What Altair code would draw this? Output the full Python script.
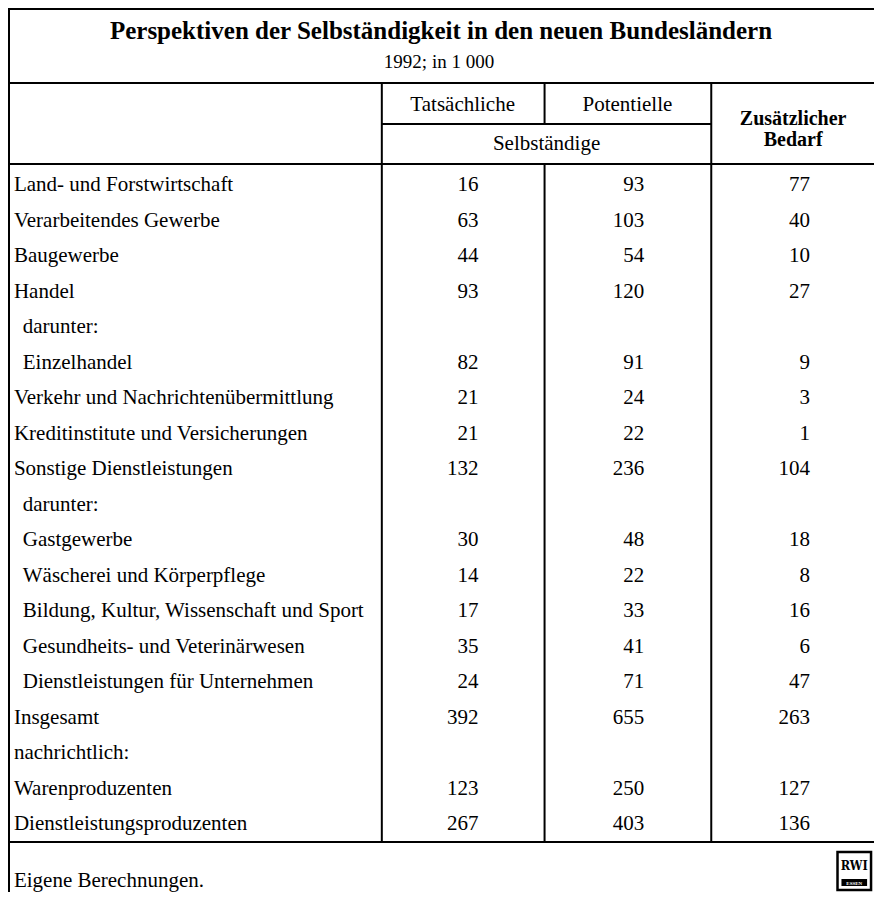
import altair as alt
import pandas as pd

# ---------------- data ----------------
labels = [
    "Land- und Forstwirtschaft", "Verarbeitendes Gewerbe", "Baugewerbe", "Handel",
    "darunter:", "Einzelhandel", "Verkehr und Nachrichtenübermittlung",
    "Kreditinstitute und Versicherungen", "Sonstige Dienstleistungen", "darunter:",
    "Gastgewerbe", "Wäscherei und Körperpflege", "Bildung, Kultur, Wissenschaft und Sport",
    "Gesundheits- und Veterinärwesen", "Dienstleistungen für Unternehmen", "Insgesamt",
    "nachrichtlich:", "Warenproduzenten", "Dienstleistungsproduzenten",
]
indent = [0, 0, 0, 0, 1, 1, 0, 0, 0, 1, 1, 1, 1, 1, 1, 0, 0, 0, 0]
tatsaechliche = [16, 63, 44, 93, None, 82, 21, 21, 132, None, 30, 14, 17, 35, 24, 392, None, 123, 267]
potentielle = [93, 103, 54, 120, None, 91, 24, 22, 236, None, 48, 22, 33, 41, 71, 655, None, 250, 403]
bedarf = [77, 40, 10, 27, None, 9, 3, 1, 104, None, 18, 8, 16, 6, 47, 263, None, 127, 136]

title = "Perspektiven der Selbständigkeit in den neuen Bundesländern"
subtitle = "1992; in 1 000"
col_heads = ["Tatsächliche", "Potentielle"]
group_head = "Selbständige"
extra_head = ["Zusätzlicher", "Bedarf"]
footer = "Eigene Berechnungen."

# ---------------- layout helpers ----------------
W, H = 866, 884
FONT = "Liberation Serif"


def px(x):
    return (x - 4) * W / 878


def py(y):
    return max(y - 8, 1)


rows = pd.DataFrame({"row": list(range(len(labels))), "label": labels, "indent": indent})
vals = []
for c, series in enumerate([tatsaechliche, potentielle, bedarf]):
    for r, v in enumerate(series):
        if v is not None:
            vals.append({"row": r, "col": c, "v": str(v)})
vals = pd.DataFrame(vals)

ROW0, STEP = 185, 35.5
yscale = alt.Scale(domain=[0, len(labels) - 1], range=[py(ROW0), py(ROW0 + STEP * (len(labels) - 1))])
xscale = alt.Scale(domain=[0, 2], range=[px(481), px(817)])

one = pd.DataFrame({"a": [0]})


def hrule(y, x1, x2, w=2):
    return alt.Chart(one).mark_rule(color="black", strokeWidth=w).encode(
        x=alt.value(px(x1)), x2=alt.value(px(x2)), y=alt.value(py(y)))


def vrule(x, y1, y2, w=2):
    return alt.Chart(one).mark_rule(color="black", strokeWidth=w).encode(
        x=alt.value(max(px(x), 1)), y=alt.value(py(y1)), y2=alt.value(py(y2)))


def label(text, x, y, size=21, weight="normal", align="center", font=FONT, color="black"):
    return alt.Chart(pd.DataFrame({"t": [text]})).mark_text(
        font=font, fontSize=size, fontWeight=weight, align=align, baseline="middle", color=color
    ).encode(x=alt.value(px(x)), y=alt.value(py(y)), text="t:N")


layers = [
    hrule(5, 4, 882), vrule(4, 5, 900),
    hrule(83, 4, 882),
    vrule(383, 83, 842), vrule(548, 83, 124), vrule(548, 164, 842), vrule(717, 83, 842),
    hrule(124, 383, 717),
    hrule(164, 4, 882),
    hrule(842, 4, 882),
    label(title, 443, 31, size=25, weight="bold"),
    label(subtitle, 441, 62, size=19),
    label(col_heads[0], 465, 105),
    label(col_heads[1], 632, 105),
    label(group_head, 550, 144),
    label(extra_head[0], 800, 119, size=20, weight="bold"),
    label(extra_head[1], 800, 140, size=20, weight="bold"),
    label(footer, 10, 881, align="left"),
]

text_base = alt.Chart(rows).mark_text(font=FONT, fontSize=21, align="left", baseline="middle", color="black")
layers.append(text_base.transform_filter("datum.indent == 0").encode(
    x=alt.value(px(10)), y=alt.Y("row:Q", scale=yscale, axis=None), text="label:N"))
layers.append(text_base.transform_filter("datum.indent == 1").encode(
    x=alt.value(px(19)), y=alt.Y("row:Q", scale=yscale, axis=None), text="label:N"))

layers.append(alt.Chart(vals).mark_text(font=FONT, fontSize=21, align="right", baseline="middle", color="black").encode(
    x=alt.X("col:Q", scale=xscale, axis=None),
    y=alt.Y("row:Q", scale=yscale, axis=None),
    text="v:N"))

# RWI logo
layers.append(alt.Chart(one).mark_rect(fill="white", stroke="black", strokeWidth=2.5).encode(
    x=alt.value(px(845)), x2=alt.value(px(879)), y=alt.value(py(852)), y2=alt.value(py(890))))
layers.append(label("RWI", 862, 866, size=12.5, weight="bold", font="DejaVu Serif Condensed"))
layers.append(alt.Chart(one).mark_rect(fill="black").encode(
    x=alt.value(px(849)), x2=alt.value(px(875)), y=alt.value(py(879)), y2=alt.value(py(886))))
layers.append(label("ESSEN", 862, 882.5, size=5, weight="bold", color="white"))

chart = alt.layer(*layers).properties(
    width=W, height=H, padding=0, autosize=alt.AutoSizeParams(type="none"), background="white"
).configure_view(stroke=None)

chart.save("out.html", embed_options={"renderer": "svg", "actions": False})
